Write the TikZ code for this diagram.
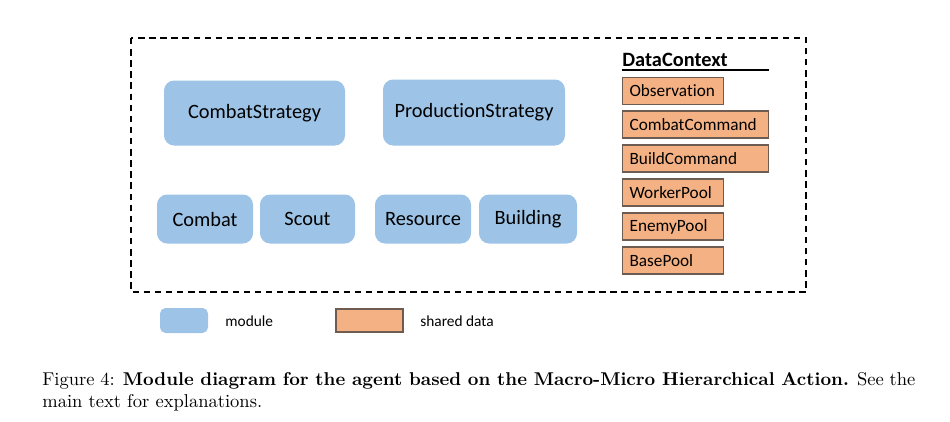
\documentclass[tikz,border=0pt]{standalone}
\usepackage{fontspec}
\newfontfamily\calibri[Ligatures={NoCommon}]{Carlito}
\definecolor{modblue}{RGB}{157,195,230}
\definecolor{dataorange}{RGB}{244,177,131}
\definecolor{dataedge}{RGB}{110,92,80}
\begin{document}
\begin{tikzpicture}
  [x=0.54pt,y=-0.54pt
  ,module/.style={fill=modblue,rounded corners=5.5pt,inner sep=0pt
    ,font=\calibri\fontsize{11}{13}\selectfont}
  ,shared/.style={draw=dataedge,fill=dataorange,anchor=west,align=left
    ,inner xsep=3.8pt,inner ysep=0pt,line width=0.6pt
    ,font=\calibri\fontsize{9.3}{11}\selectfont}
  ,legend/.style={anchor=west,inner sep=0pt
    ,font=\calibri\fontsize{8.3}{10}\selectfont}
  ]

  \useasboundingbox (0,0) rectangle (950,421);

  % Module box
  %
  % #1 - name
  % #2 - x centre
  % #3 - y centre
  % #4 - width
  % #5 - height
  % #6 - text
  \newcommand{\module}[6]{
    \node [module,minimum width=#4*0.54pt,minimum height=#5*0.54pt] (#1) at (#2,#3) {#6};
  }

  % Shared data box
  %
  % #1 - name
  % #2 - y centre
  % #3 - width
  % #4 - text
  \newcommand{\shared}[4]{
    \node [shared,text width=(#3-14)*0.54pt,minimum height=27*0.54pt] (#1) at (622,#2) {#4};
  }

  % contour
  \draw [line width=0.8pt,dash pattern=on 3.5pt off 2.5pt] (131,38) rectangle (806,292);

  % strategies
  \module{cstrat}{254.5}{113}{181}{65}{CombatStrategy}
  \module{pstrat}{474}{112.5}{182}{66}{ProductionStrategy}

  % managers
  \module{combat}{205}{219}{96}{49}{Combat}
  \module{scout}{307.5}{219}{95}{49}{Scout}
  \module{resource}{423}{219}{96}{49}{Resource}
  \module{building}{528}{219}{98}{49}{Building}

  % data context
  \node [anchor=south west,inner xsep=0pt,inner ysep=1.5pt,text width=146*0.54pt,align=left
    ,font=\calibri\bfseries\fontsize{11}{13}\selectfont] (ctx) at (622,70) {DataContext};
  \draw [line width=1pt] (ctx.south west) -- (ctx.south east);

  \shared{obs}{91}{101}{Observation}
  \shared{ccmd}{124.5}{146}{CombatCommand}
  \shared{bcmd}{158.5}{146}{BuildCommand}
  \shared{wpool}{192.5}{101}{WorkerPool}
  \shared{epool}{226.5}{101}{EnemyPool}
  \shared{bpool}{260.5}{101}{BasePool}

  % legend
  \node [module,minimum width=48*0.54pt,minimum height=25*0.54pt,rounded corners=3pt] (lmod) at (184,320.5) {};
  \node [legend] (lmodtxt) at (225,321) {module};
  \node [draw=dataedge,fill=dataorange,line width=0.6pt,minimum width=67*0.54pt,minimum height=23*0.54pt,inner sep=0pt] (ldata) at (369.5,320.5) {};
  \node [legend] (ldatatxt) at (420,321) {shared data};

  % caption
  \node [anchor=north west,inner sep=0pt,text width=873*0.54pt,align=justify
    ,font=\fontsize{10}{12}\selectfont] (caption) at (42,372)
    {Figure 4: \textbf{Module diagram for the agent based on the Macro-Micro Hierarchical Action.} See the\linebreak main text for explanations.};

\end{tikzpicture}
\end{document}
